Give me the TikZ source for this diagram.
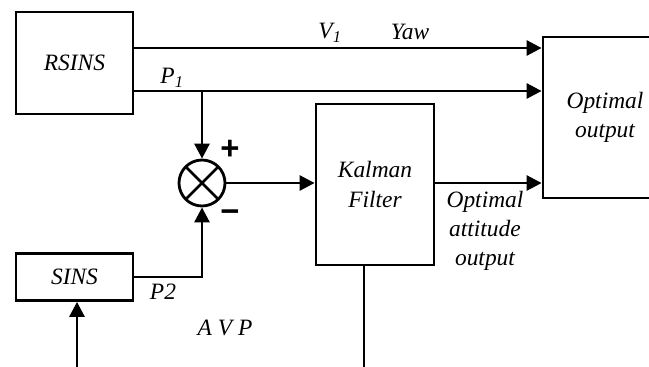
\documentclass[tikz,border=0pt]{standalone}
\usepackage{fontspec}
\setmainfont{Liberation Serif}
\setsansfont{Liberation Sans}
\usetikzlibrary{arrows.meta, positioning}

\begin{document}
\begin{tikzpicture}[
    x=0.03cm, y=-0.03cm,
    font=\fontsize{20}{25}\selectfont\itshape,
    block/.style={rectangle, draw=black, line width=2.4pt, align=center, inner sep=0pt},
    signal/.style={-{Triangle[length=0.45cm, width=0.45cm]}, line width=2.4pt},
    wire/.style={line width=2.4pt},
    sign/.style={font=\fontsize{28}{28}\selectfont\sffamily\bfseries},
    sumnode/.style={circle, draw=black, line width=2.4pt, minimum size=1.38cm, inner sep=0pt,
        path picture={
            \draw[line width=2.4pt] (path picture bounding box.north west) -- (path picture bounding box.south east);
            \draw[line width=2.4pt] (path picture bounding box.north east) -- (path picture bounding box.south west);
        }}
]
\useasboundingbox (0,0) rectangle (649,367);

\node[block, minimum width=3.51cm, minimum height=3.06cm] (RSINS) at (74.5,63) {RSINS};
\node[block, minimum width=3.51cm, minimum height=1.41cm] (SINS) at (74.5,277) {SINS};
\node[block, minimum width=3.54cm, minimum height=4.83cm] (Kalman) at (375,184.5) {Kalman\\Filter};
\node[block, minimum width=3.72cm, minimum height=4.83cm] (OptOut) at (605,117.5) {Optimal\\output};
\node[sumnode] (Sum) at (202,183) {};

\coordinate (yawlevel) at (150,48);
\coordinate (P1branch) at (Sum.north |- 0,91);
\coordinate (AVPend) at (364,367);
\coordinate (SINSin) at (77,367);

% RSINS outputs
\draw[signal] (RSINS.east |- yawlevel) -- (OptOut.west |- yawlevel);
\draw[signal] (RSINS.east |- P1branch) -- (OptOut.west |- P1branch);
\draw[signal] (P1branch) -- (Sum.north);

% SINS branch
\draw[signal] (SINS.east) -| (Sum.south);
\draw[signal] (SINSin) -- (SINSin |- SINS.south);

% filter path
\draw[signal] (Sum.east) -- (Sum.east -| Kalman.west);
\draw[signal] (Kalman.east |- Sum.east) -- (OptOut.west |- Sum.east);
\draw[wire] (AVPend |- Kalman.south) -- (AVPend);

% labels
\node (V1lbl) at (330,33) {V\textsubscript{1}};
\node (Yawlbl) at (410,32) {Yaw};
\node (P1lbl) at (172,78) {P\textsubscript{1}};
\node (P2lbl) at (163,292) {P2};
\node (AVPlbl) at (225,328) {A V P};
\node[sign] (plus) at (230,150) {+};
\node[sign] (minus) at (230,216) {−};
\node[align=center] (attlbl) at (485,231) {Optimal\\attitude\\output};

\end{tikzpicture}
\end{document}
